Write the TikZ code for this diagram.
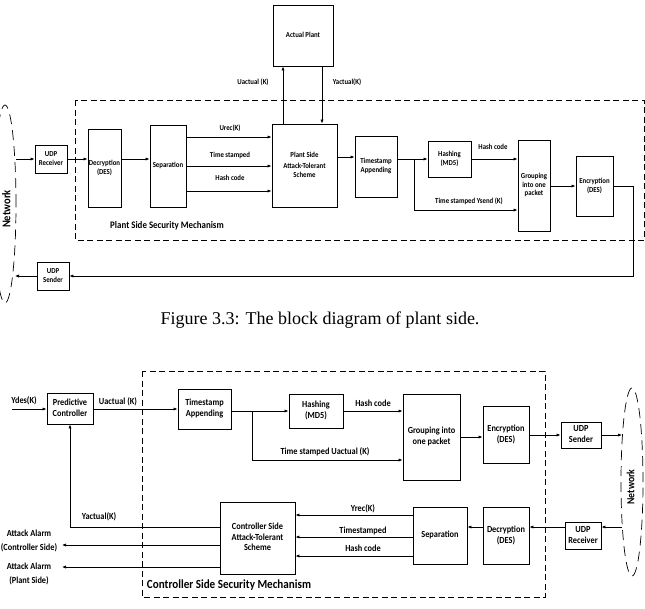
\documentclass[tikz,border=0pt]{standalone}
\usepackage{fontspec}
\setmainfont{Carlito}
\newfontfamily\capfont{Liberation Serif}
\usetikzlibrary{arrows.meta}
\newcommand{\vt}[1]{\scalebox{1}[1.12]{\renewcommand{\arraystretch}{0.92}\begin{tabular}{@{}c@{}}#1\end{tabular}}}
\begin{document}
\begin{tikzpicture}[x=1pt,y=-1pt,
 blk/.style={draw, line width=0.9pt, inner sep=0pt, align=center},
 arr/.style={-{Latex[length=4pt,width=3.2pt]}, line width=0.7pt},
 ln/.style={line width=0.7pt},
 ft/.style={font=\fontsize{6.8}{8.4}\selectfont\bfseries},
 fb/.style={font=\fontsize{8.3}{10.5}\selectfont\bfseries},
 lbl/.style={inner sep=0pt},
 dbox/.style={draw, line width=0.8pt, dash pattern=on 6pt off 3.5pt},
 net/.style={draw, line width=0.7pt, dash pattern=on 10pt off 6pt}]
\useasboundingbox (0,0) rectangle (645,608);

%% ================= TOP: plant side =================
\draw[dbox] (75,100) rectangle (644,240);
\draw[net] (5,204) ellipse [x radius=11pt, y radius=99pt];
\node[lbl, rotate=90, font=\fontsize{10.5}{12}\selectfont\bfseries] (netT) at (8,209) {\vt{Network}};

\node[blk, ft, minimum width=60, minimum height=61] (plant) at (303,35.5) {\vt{Actual Plant}};
\node[blk, ft, minimum width=32, minimum height=28] (udprx) at (51,159) {\vt{UDP\\Receiver}};
\node[blk, ft, minimum width=33, minimum height=78] (dec) at (104.5,168) {\vt{Decryption\\(DES)}};
\node[blk, ft, minimum width=36, minimum height=82] (sep) at (168,166) {\vt{Separation}};
\node[blk, ft, minimum width=65, minimum height=83] (pss) at (304.5,165.5) {\vt{Plant Side\\[2pt]Attack-Tolerant\\Scheme}};
\node[blk, ft, minimum width=42, minimum height=61] (tsa) at (376,166.5) {\vt{Timestamp\\Appending}};
\node[blk, ft, minimum width=43, minimum height=36] (hash) at (449.5,159) {\vt{Hashing\\(MD5)}};
\node[blk, ft, minimum width=32, minimum height=91] (grp) at (534,185.5) {\vt{Grouping\\into one\\packet}};
\node[blk, ft, minimum width=37, minimum height=60] (enc) at (594.5,186) {\vt{Encryption\\(DES)}};
\node[blk, ft, minimum width=32, minimum height=28] (udptx) at (53,276) {\vt{UDP\\Sender}};

\coordinate (netin) at (16,159);
\coordinate (netout) at (15,276);
\coordinate (br1) at (414,159);
\coordinate (rt1) at (633,186);

\draw[arr] (netin) -- (udprx.west);
\draw[arr] (udprx.east) -- (udprx.east -| dec.west);
\draw[arr] (dec.east |- udprx) -- (sep.west |- udprx);
\draw[arr] (sep.east |- {(0,137)}) -- (pss.west |- {(0,137)});
\draw[arr] (sep.east |- {(0,166)}) -- (pss.west |- {(0,166)});
\draw[arr] (sep.east |- {(0,191)}) -- (pss.west |- {(0,191)});
\node[lbl, ft] (l1) at (230,129) {\vt{Urec(K)}};
\node[lbl, ft] (l2) at (230,156) {\vt{Time stamped}};
\node[lbl, ft] (l3) at (230,179) {\vt{Hash code}};
\draw[arr] (pss.north -| {(283,0)}) -- (plant.south -| {(283,0)});
\draw[arr] (plant.south -| {(322,0)}) -- (pss.north -| {(322,0)});
\node[lbl, ft] (l4) at (253,83) {\vt{Uactual (K)}};
\node[lbl, ft] (l5) at (347,83) {\vt{Yactual(K)}};
\draw[arr] (pss.east |- {(0,157)}) -- (tsa.west |- {(0,157)});
\draw[ln] (tsa.east |- br1) -- (br1);
\draw[arr] (br1) -- (hash.west |- br1);
\draw[arr] (br1) |- (grp.west |- {(0,210)});
\node[lbl, ft] (l6) at (469,202) {\vt{Time stamped Ysend (K)}};
\draw[arr] (hash.east) -- (grp.west |- hash);
\node[lbl, ft] (l7) at (493,148) {\vt{Hash code}};
\draw[arr] (grp.east |- enc) -- (enc.west);
\draw[arr] (enc.east) -- (rt1) |- (udptx.east);
\draw[arr] (udptx.west) -- (netout);
\node[lbl, font=\fontsize{8.9}{10}\selectfont\bfseries] (t1) at (167,226) {\vt{Plant Side Security Mechanism}};

\node[lbl, font=\capfont\fontsize{18}{20}\selectfont] (cap) at (320,320) {Figure 3.3: The block diagram of plant side.};

%% ================= BOTTOM: controller side =================
\draw[dbox] (142,371) rectangle (545,597);
\draw[net] (632,482) ellipse [x radius=11pt, y radius=94pt];
\node[lbl, rotate=90, font=\fontsize{9.7}{11}\selectfont\bfseries] (netB) at (632,487) {\vt{Network}};

\node[blk, fb, minimum width=46, minimum height=31] (pc) at (70,408.5) {\vt{Predictive\\Controller}};
\node[blk, fb, minimum width=53, minimum height=40] (tsa2) at (204.5,409) {\vt{Timestamp\\Appending}};
\node[blk, fb, minimum width=54, minimum height=34] (hash2) at (316,411) {\vt{Hashing\\(MD5)}};
\node[blk, fb, minimum width=57, minimum height=86] (grp2) at (431.5,437) {\vt{Grouping into\\one packet}};
\node[blk, fb, minimum width=46, minimum height=57] (enc2) at (506,434.5) {\vt{Encryption\\(DES)}};
\node[blk, fb, minimum width=40, minimum height=26] (udptx2) at (581,435) {\vt{UDP\\Sender}};
\node[blk, fb, minimum width=36, minimum height=27] (udprx2) at (583,535.5) {\vt{UDP\\Receiver}};
\node[blk, fb, minimum width=46, minimum height=57] (dec2) at (506,535.5) {\vt{Decryption\\(DES)}};
\node[blk, fb, minimum width=54, minimum height=57] (sep2) at (440,535.5) {\vt{Separation}};
\node[blk, fb, minimum width=75, minimum height=72] (css) at (257.5,538) {\vt{Controller Side\\Attack-Tolerant\\Scheme}};

\coordinate (ydes) at (12,409);
\coordinate (br2) at (252,411);
\coordinate (netin2) at (622,435);
\coordinate (netout2) at (622,527);
\coordinate (al1) at (62,545);
\coordinate (al2) at (62,567);

\draw[arr] (ydes) -- (ydes -| pc.west);
\node[lbl, fb] (m1) at (24,401) {\vt{Ydes(K)}};
\draw[arr] (pc.east |- ydes) -- (tsa2.west |- ydes);
\node[lbl, fb] (m2) at (118,402) {\vt{Uactual (K)}};
\draw[ln] (tsa2.east |- br2) -- (br2);
\draw[arr] (br2) -- (hash2.west |- br2);
\draw[arr] (br2) |- (grp2.west |- {(0,460)});
\node[lbl, fb] (m3) at (325,452) {\vt{Time stamped Uactual (K)}};
\draw[arr] (hash2.east) -- (grp2.west |- hash2);
\node[lbl, fb] (m4) at (373,404) {\vt{Hash code}};
\draw[arr] (grp2.east) -- (enc2.west |- grp2);
\draw[arr] (enc2.east |- udptx2) -- (udptx2.west);
\draw[arr] (udptx2.east) -- (netin2);
\draw[arr] (netout2) -- (udprx2.east |- netout2);
\draw[arr] (udprx2.west |- netout2) -- (dec2.east |- netout2);
\draw[arr] (dec2.west |- netout2) -- (sep2.east |- netout2);
\draw[arr] (sep2.west |- {(0,515)}) -- (css.east |- {(0,515)});
\draw[arr] (sep2.west |- {(0,537)}) -- (css.east |- {(0,537)});
\draw[arr] (sep2.west |- {(0,556)}) -- (css.east |- {(0,556)});
\node[lbl, fb] (m5) at (363,509) {\vt{Yrec(K)}};
\node[lbl, fb] (m6) at (363,531) {\vt{Timestamped}};
\node[lbl, fb] (m7) at (363,549) {\vt{Hash code}};
\draw[arr] (css.west |- {(0,527)}) -| (pc.south);
\node[lbl, fb] (m8) at (99,517) {\vt{Yactual(K)}};
\draw[arr] (css.west |- al1) -- (al1);
\draw[arr] (css.west |- al2) -- (al2);
\node[lbl, fb] (a1) at (29,541) {\vt{Attack Alarm\\[3pt](Controller Side)}};
\node[lbl, fb] (a2) at (29,574.5) {\vt{Attack Alarm\\[3pt](Plant Side)}};
\node[lbl, font=\fontsize{11.1}{12}\selectfont\bfseries] (t2) at (229,586) {\vt{Controller Side Security Mechanism}};
\end{tikzpicture}
\end{document}
